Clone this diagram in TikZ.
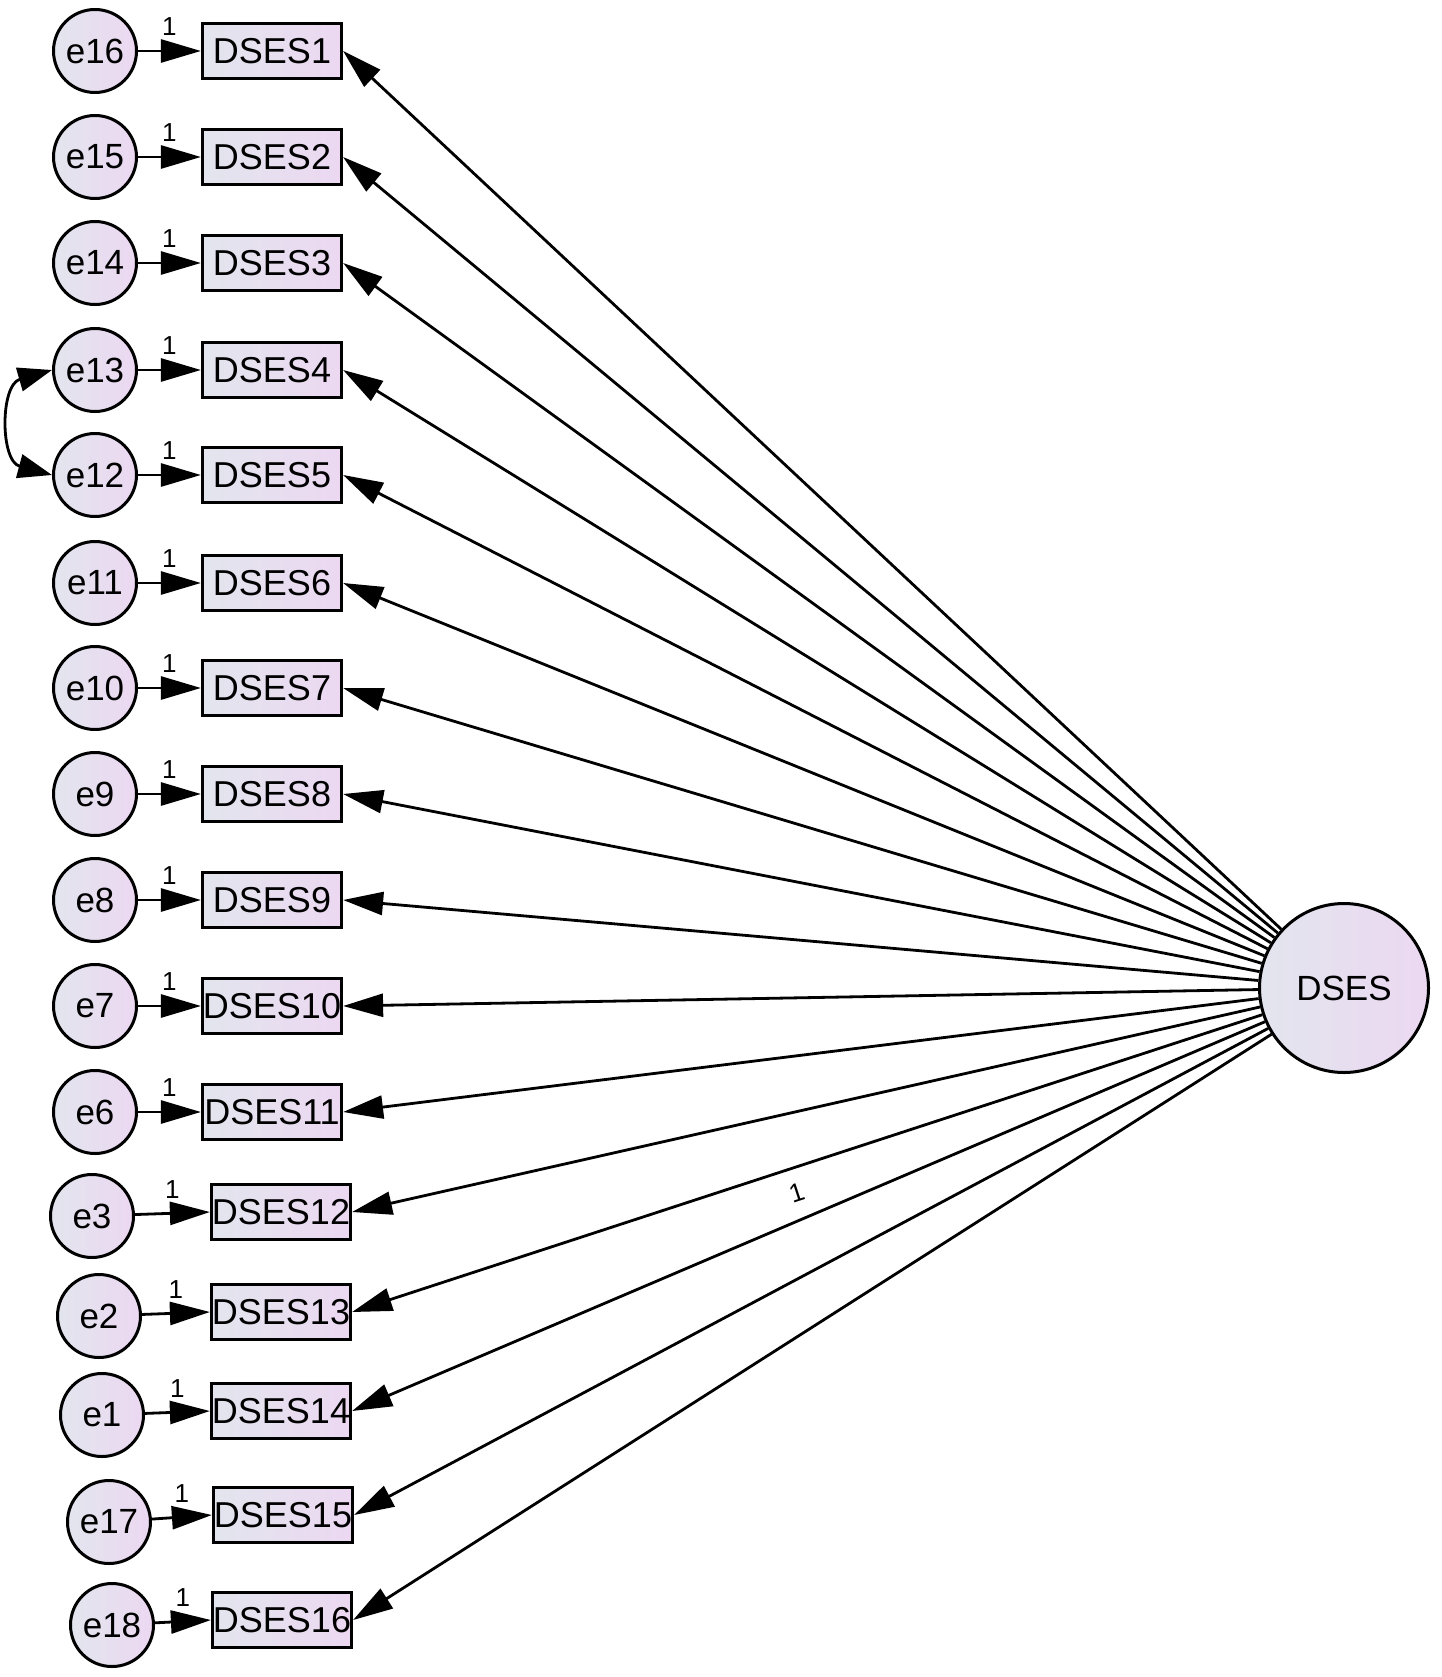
\documentclass[tikz,border=0pt]{standalone}
\usepackage{fontspec}
\setmainfont{Liberation Sans}
\usetikzlibrary{arrows.meta}
\definecolor{ca}{RGB}{226,229,238}
\definecolor{cb}{RGB}{236,216,241}
\begin{document}
\begin{tikzpicture}[x=1pt,y=-1pt,
  obs/.style={draw=black, line width=3.2pt, left color=ca, right color=cb, minimum width=139pt, minimum height=55pt, inner sep=0pt, font=\fontsize{36}{40}\selectfont},
  err/.style={circle, draw=black, line width=3pt, left color=ca, right color=cb, minimum size=83pt, inner sep=0pt, font=\fontsize{35}{40}\selectfont},
  lat/.style={circle, draw=black, line width=3pt, left color=ca, right color=cb, minimum size=169pt, inner sep=0pt, font=\fontsize{35}{40}\selectfont},
  arr/.style={line width=2.8pt, -{Triangle[length=40pt,width=23pt]}},
  cov/.style={line width=2.8pt, {Triangle[length=34pt,width=24pt]}-{Triangle[length=34pt,width=24pt]}},
  one/.style={font=\fontsize{26}{28}\selectfont, inner sep=0pt}
]
\fill[white] (0,0) rectangle (1441,1677);
\useasboundingbox (0,0) rectangle (1441,1677);
\node[lat] (dses) at (1344,988) {DSES};
\foreach \i/\e/\ex/\ey/\bx/\by in {
  1/e16/95/51/272/51,
  2/e15/95/157/272/157,
  3/e14/95/263/272/263,
  4/e13/95/370/272/370,
  5/e12/95/475/272/475,
  6/e11/95/583/272/583,
  7/e10/95/688/272/688,
  8/e9/95/794/272/794,
  9/e8/95/900/272/900,
  10/e7/95/1006/272/1006,
  11/e6/95/1112/272/1112,
  12/e3/92/1216/281/1212,
  13/e2/99/1316/281/1312,
  14/e1/102/1415/281/1411,
  15/e17/109/1522/283/1515,
  16/e18/112/1625/282/1620}{
  \node[err] (\e) at (\ex,\ey) {\e};
  \node[obs] (b\i) at (\bx,\by) {DSES\i};
  \draw[arr] (\e) -- (b\i.west) node[midway, one, yshift=24pt] {1};
  \draw[arr] (dses) -- (b\i.east);
}
\path (dses) -- (b13.east) node[pos=0.52, sloped, below=16pt, one] {1};
\draw[cov] (e13.west) .. controls (0,385) and (0,461) .. (e12.west);
\end{tikzpicture}
\end{document}
